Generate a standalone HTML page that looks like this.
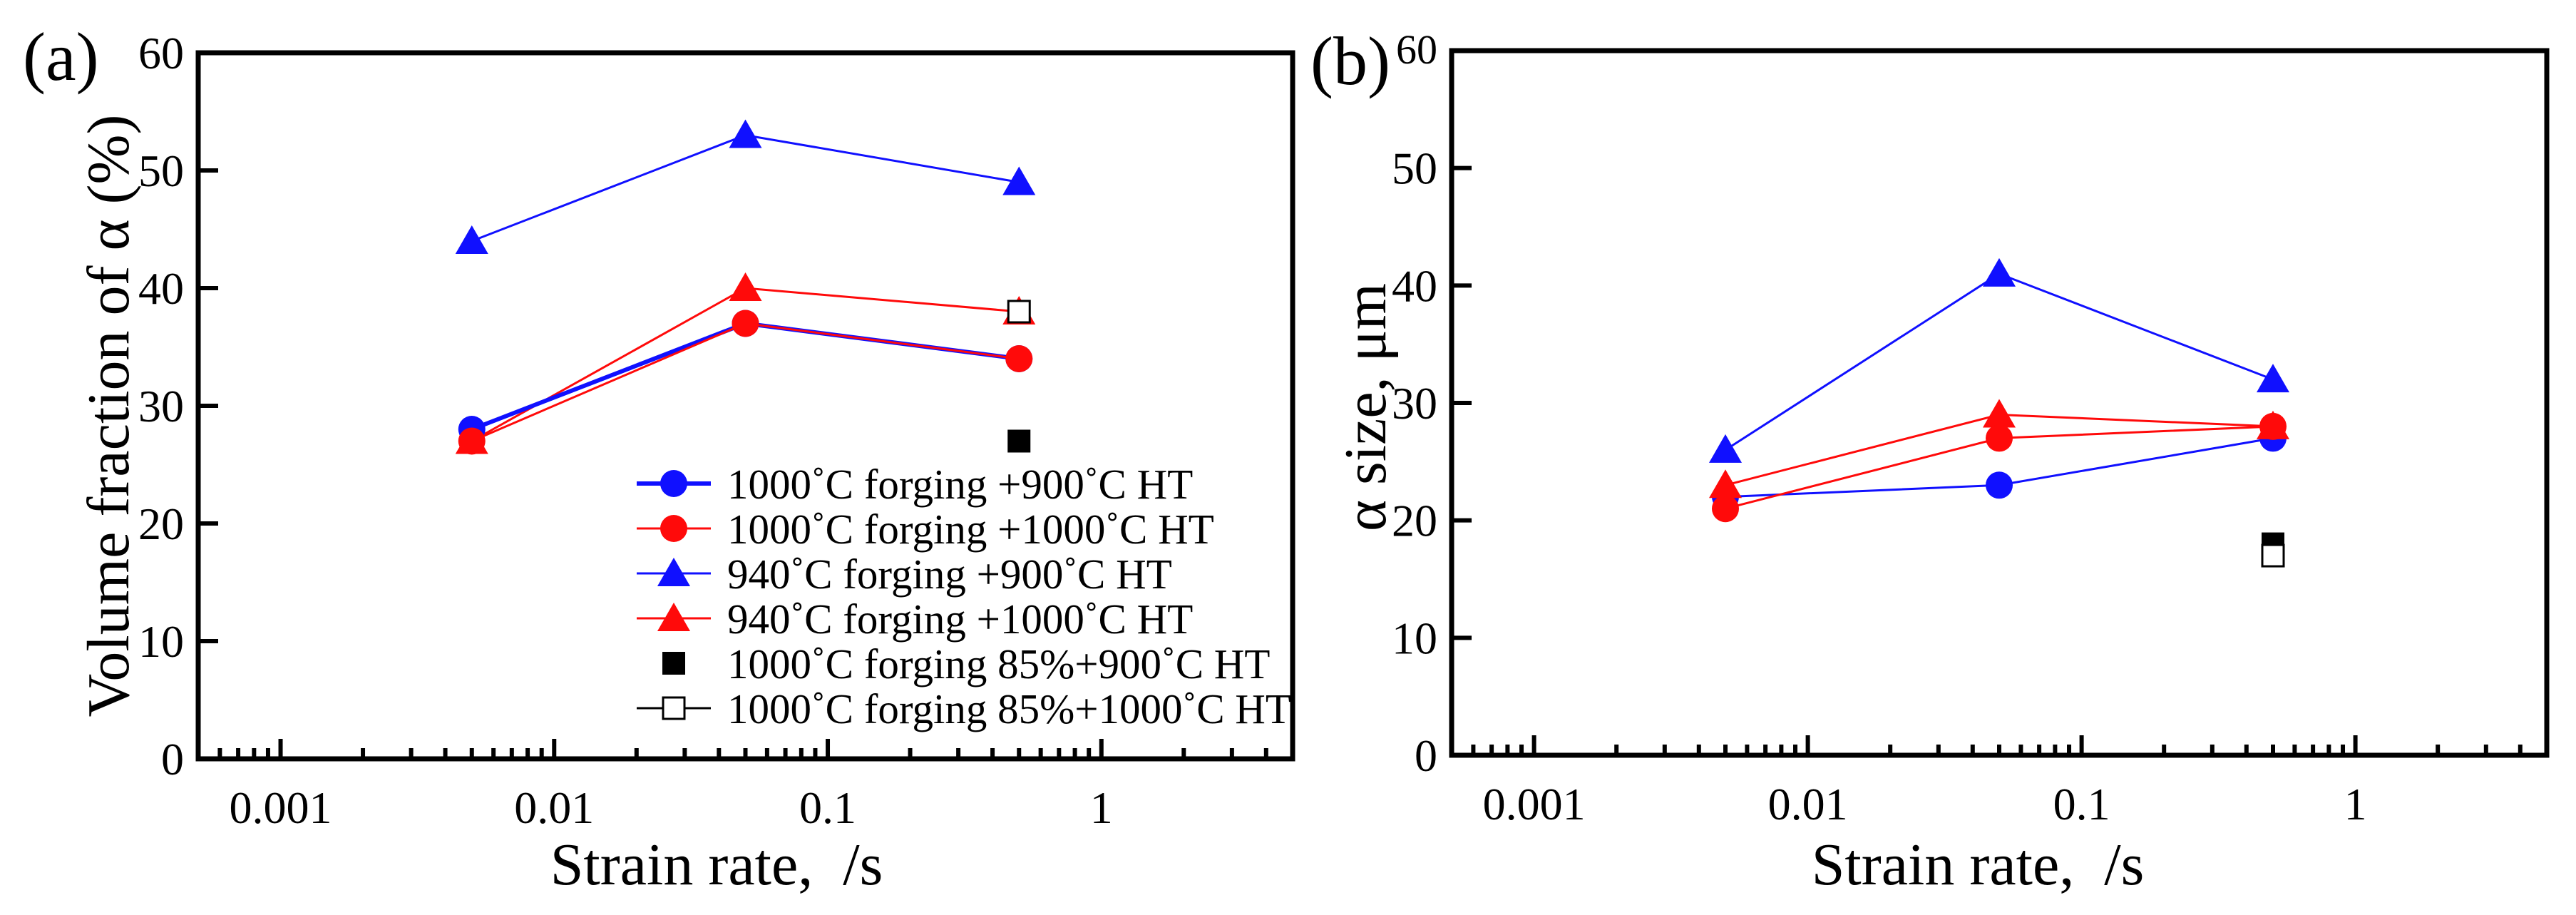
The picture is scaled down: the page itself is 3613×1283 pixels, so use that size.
<!DOCTYPE html>
<html><head><meta charset="utf-8">
<style>
html,body{margin:0;padding:0;background:#fff;}
svg{display:block;}
text{font-family:"Liberation Serif","DejaVu Serif",serif;fill:#000;}
</style></head>
<body>
<svg id="fig" width="3613" height="1283" viewBox="0 0 3613 1283" xmlns="http://www.w3.org/2000/svg"></svg>
<script>
// ---- data ----
const strainRates = [0.005, 0.05, 0.5];
const xTickLabels = ["0.001", "0.01", "0.1", "1"];
const xTickValues = [0.001, 0.01, 0.1, 1];
const yTickValues = [0, 10, 20, 30, 40, 50, 60];

const volBlueCircle = [28, 37, 34];
const volRedCircle = [27, 37, 34];
const volBlueTri = [44, 53, 49];
const volRedTri = [27, 40, 38];
const volFilledSquare = [27];
const volOpenSquare = [38];
const squareRate = [0.5];

const sizeBlueCircle = [22, 23, 27];
const sizeRedCircle = [21, 27, 28];
const sizeBlueTri = [26, 41, 32];
const sizeRedTri = [23, 29, 28];
const sizeFilledSquare = [18];
const sizeOpenSquare = [17];

const legendLabels = ["1000˚C forging +900˚C HT","1000˚C forging +1000˚C HT","940˚C forging +900˚C HT","940˚C forging +1000˚C HT","1000˚C forging 85%+900˚C HT","1000˚C forging 85%+1000˚C HT"];

const NS = "http://www.w3.org/2000/svg";
const svg = document.getElementById('fig');
const BLUE = "#1010ff", RED = "#ff0a0a";

function mk(tag, attrs, parent){
  const e = document.createElementNS(NS, tag);
  for (const k in attrs) e.setAttribute(k, attrs[k]);
  (parent || svg).appendChild(e);
  return e;
}

function makePanel(p){
  const g = mk('g', {});
  
  
  const xMinLog = Math.log10(0.0005), xMaxLog = Math.log10(5);
  const xs = v => p.left + (Math.log10(v) - xMinLog) / (xMaxLog - xMinLog) * (p.right - p.left);
  const ys = v => p.bottom - v / 60 * (p.bottom - p.top);

  for (let d = -4; d <= 0; d++) {
    for (let m = 1; m <= 9; m++) {
      const v = m * Math.pow(10, d);
      if (v < 0.0006 - 1e-9 || v > 4.5) continue;
      const major = (m === 1);
      const x = xs(v);
      const t = mk('line', {x1:x, x2:x, y1:p.bottom, y2:p.bottom - (major ? 28 : 15), stroke:'#000', 'stroke-width':6}, g);
      
      
    }
  }
  xTickValues.forEach((v, i) => {
    const t = mk('text', {x:xs(v), y:p.bottom + 90, 'font-size':64, 'text-anchor':'middle'}, g);
    t.textContent = xTickLabels[i];
    
    
  });
  yTickValues.forEach(v => {
    const y = ys(v);
    if (v > 0 && v < 60) {
      const t = mk('line', {x1:p.left, x2:p.left + 28, y1:y, y2:y, stroke:'#000', 'stroke-width':6}, g);
      
      
    }
    let fs = 64, yy = y + 22, xx = p.left - 20;
    if (v === 60 && p.raised60) { fs = 58; yy = y + 18; }
    const lab = mk('text', {x:xx, y:yy, 'font-size':fs, 'text-anchor':'end'}, g);
    lab.textContent = String(v);
    
    
  });
  const fr = mk('rect', {x:p.left, y:p.top, width:p.right - p.left, height:p.bottom - p.top, fill:'none', stroke:'#000', 'stroke-width':7}, g);
  
  

  function series(name, vals, rates, color, marker, lw){
    const sg = mk('g', {}, g);
    
    
    if (lw > 0 && vals.length > 1) {
      const pts = vals.map((v, i) => xs(rates[i]) + ',' + ys(v)).join(' ');
      const pl = mk('polyline', {points:pts, fill:'none', stroke:color, 'stroke-width':lw}, sg);
      
      
    }
    vals.forEach((v, i) => drawMarker(sg, xs(rates[i]), ys(v), color, marker, name + '-point'));
  }
  p.series.forEach(s => series(s[0], s[1], s[2], s[3], s[4], s[5]));

  const xt = mk('text', {x:p.xTitleX, y:1240, 'font-size':84, 'text-anchor':'middle'}, g);
  xt.textContent = 'Strain rate,\u00a0\u00a0/s';
  
  
  const yt = mk('text', {x:0, y:0, 'font-size':p.yFont, 'text-anchor':'middle', transform:'translate(' + p.yTitleX + ',' + p.yTitleY + ') rotate(-90)'}, g);
  yt.textContent = p.yTitle;
  
  
  const pl = mk('text', {x:p.labelX, y:p.labelY, 'font-size':96}, g);
  pl.textContent = p.label;
  
  
  return g;
}

function drawMarker(parent, x, y, color, marker, name){
  let m;
  if (marker === 'circle') m = mk('circle', {cx:x, cy:y, r:19, fill:color}, parent);
  else if (marker === 'tri') m = mk('polygon', {points:(x) + ',' + (y - 22) + ' ' + (x - 23) + ',' + (y + 18) + ' ' + (x + 23) + ',' + (y + 18), fill:color}, parent);
  else if (marker === 'fsq') m = mk('rect', {x:x - 16, y:y - 16, width:32, height:32, fill:'#000'}, parent);
  else m = mk('rect', {x:x - 15, y:y - 15, width:30, height:30, fill:'#fff', stroke:'#000', 'stroke-width':3}, parent);
  
  
}

makePanel({
  name:'panel-a', left:278, right:1813, top:74, bottom:1064, raised60:false,
  xTitleX:1005, yTitleX:180, yTitleY:583, yFont:84, yTitle:'Volume fraction of α (%)',
  label:'(a)', labelX:32, labelY:112,
  series:[
    ['series-940-900', volBlueTri, strainRates, BLUE, 'tri', 3],
    ['series-940-1000', volRedTri, strainRates, RED, 'tri', 3],
    ['series-1000-900', volBlueCircle, strainRates, BLUE, 'circle', 6],
    ['series-1000-1000', volRedCircle, strainRates, RED, 'circle', 3],
    ['series-85-900', volFilledSquare, squareRate, '#000', 'fsq', 0],
    ['series-85-1000', volOpenSquare, squareRate, '#000', 'osq', 0]
  ]
});
makePanel({
  name:'panel-b', left:2036, right:3572, top:71, bottom:1059, raised60:true,
  xTitleX:2774, yTitleX:1943, yTitleY:571, yFont:84, yTitle:'α size, μm',
  label:'(b)', labelX:1838, labelY:118,
  series:[
    ['series-940-900', sizeBlueTri, strainRates, BLUE, 'tri', 3],
    ['series-1000-900', sizeBlueCircle, strainRates, BLUE, 'circle', 3],
    ['series-940-1000', sizeRedTri, strainRates, RED, 'tri', 3],
    ['series-1000-1000', sizeRedCircle, strainRates, RED, 'circle', 3],
    ['series-85-900', sizeFilledSquare, squareRate, '#000', 'fsq', 0],
    ['series-85-1000', sizeOpenSquare, squareRate, '#000', 'osq', 0]
  ]
});

const legendColors = [BLUE, RED, BLUE, RED, '#000', '#000'];
const legendMarkers = ['circle', 'circle', 'tri', 'tri', 'fsq', 'osq'];
const legendLW = [6, 3, 3, 3, 0, 3];
const leg = mk('g', {});


legendLabels.forEach((lab, i) => {
  const y = 678 + i * 63;
  const eg = mk('g', {}, leg);
  
  
  if (legendLW[i] > 0) {
    const l = mk('line', {x1:893, x2:997, y1:y, y2:y, stroke:legendColors[i], 'stroke-width':legendLW[i]}, eg);
    
    
  }
  drawMarker(eg, 945, y, legendColors[i], legendMarkers[i], 'legend-marker');
  const t = mk('text', {x:1020, y:y + 21, 'font-size':59}, eg);
  t.textContent = lab;
  
  
});
</script>
</body></html>
